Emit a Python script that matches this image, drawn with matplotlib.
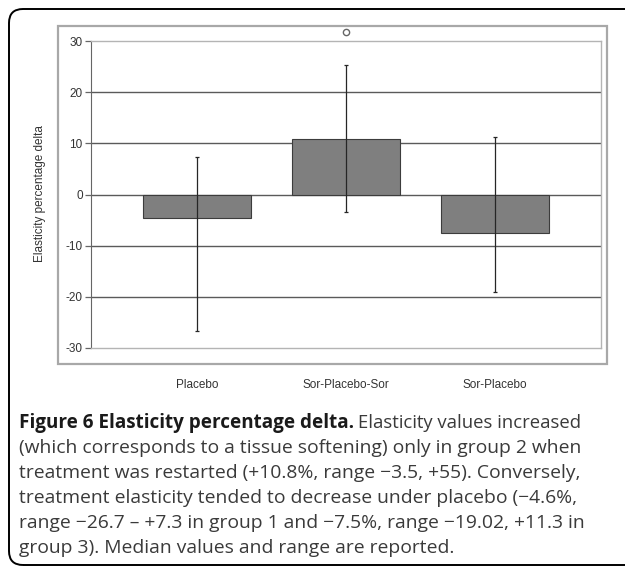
import matplotlib.pyplot as plt
from matplotlib.patches import FancyBboxPatch, Rectangle
from matplotlib.transforms import IdentityTransform

plt.rcParams['axes.unicode_minus'] = False

# data
groups = ['Placebo', 'Sor-Placebo-Sor', 'Sor-Placebo']
medians = [-4.5, 10.8, -7.6]
range_low = [-26.7, -3.5, -19.0]
range_high = [7.3, 25.4, 11.3]
outlier_group = [1]
outlier_value = [31.8]
yticks = [-30, -20, -10, 0, 10, 20, 30]

caption_bold = 'Figure 6 Elasticity percentage delta.'
caption_lines = [
    'Elasticity values increased',
    '(which corresponds to a tissue softening) only in group 2 when',
    'treatment was restarted (+10.8%, range \u22123.5, +55). Conversely,',
    'treatment elasticity tended to decrease under placebo (\u22124.6%,',
    'range \u221226.7 \u2013 +7.3 in group 1 and \u22127.5%, range \u221219.02, +11.3 in',
    'group 3). Median values and range are reported.',
]

W, H = 625, 566
fig = plt.figure(figsize=(W / 100, H / 100), dpi=100)

# outer rounded frame (pixels, origin bottom-left)
frame = FancyBboxPatch((9, 1), 660, 556, boxstyle='round,pad=0,rounding_size=14',
                       transform=IdentityTransform(), fill=False, ec='black', lw=1.4)
fig.add_artist(frame)

# grey chart box
box = Rectangle((58, H - 364), 549, 338, transform=IdentityTransform(),
                fill=False, ec='#a8a8a8', lw=1.6)
fig.add_artist(box)

ax = fig.add_axes([91 / W, 1 - 348 / H, (601 - 91) / W, (348 - 41) / H])
x = list(range(len(groups)))

for v in yticks[1:-1]:
    ax.axhline(v, color='#5a5a5a', lw=1.0, zorder=1)

ax.bar(x, medians, width=0.727, color='#7f7f7f', edgecolor='#3c3c3c', lw=0.8, zorder=2)
yerr = [[m - lo for m, lo in zip(medians, range_low)],
        [hi - m for m, hi in zip(medians, range_high)]]
ax.errorbar(x, medians, yerr=yerr, fmt='none', ecolor='#262626', elinewidth=0.9,
            capsize=1.5, capthick=0.9, zorder=3)
ax.plot(outlier_group, outlier_value, 'o', mfc='none', mec='#666666', ms=4.5,
        mew=1.0, clip_on=False, zorder=4)

ax.set_xlim(-0.711, 2.711)
ax.set_ylim(-30, 30)
ax.set_yticks(yticks)
ax.set_xticks(x)
ax.set_xticklabels(groups)
for s in ['top', 'right', 'bottom']:
    ax.spines[s].set_color('#b4b4b4')
    ax.spines[s].set_linewidth(1.0)
ax.spines['left'].set_color('#666666')
ax.tick_params(axis='y', length=4, width=0.9, color='#666666', labelsize=8.5,
               labelcolor='#333333', pad=2)
ax.tick_params(axis='x', length=0, labelsize=8.5, labelcolor='#333333', pad=22)
for t in ax.get_xticklabels() + ax.get_yticklabels():
    t.set_fontfamily('Liberation Sans')

fig.text(40 / W, 1 - 194 / H, 'Elasticity percentage delta', rotation=90,
         ha='center', va='center', fontsize=8.5, color='#333333',
         fontfamily='Liberation Sans')

# caption
cap_size = 13.9
bold_size = 13.6
baselines = [428, 453, 478, 503, 528, 553]
tb = fig.text(19 / W, 1 - baselines[0] / H, caption_bold, fontsize=bold_size,
              fontweight='bold', fontfamily='Open Sans', va='baseline', color='#1a1a1a')
fig.canvas.draw()
bb = tb.get_window_extent(fig.canvas.get_renderer())
fig.text((bb.x1 + 4) / W, 1 - baselines[0] / H, caption_lines[0], fontsize=13.3,
         fontfamily='Open Sans', va='baseline', color='#3a3a3a')
for line, b in zip(caption_lines[1:], baselines[1:]):
    fig.text(19 / W, 1 - b / H, line, fontsize=cap_size, fontfamily='Open Sans',
             va='baseline', color='#3a3a3a')

fig.savefig('out.png', dpi=100)
